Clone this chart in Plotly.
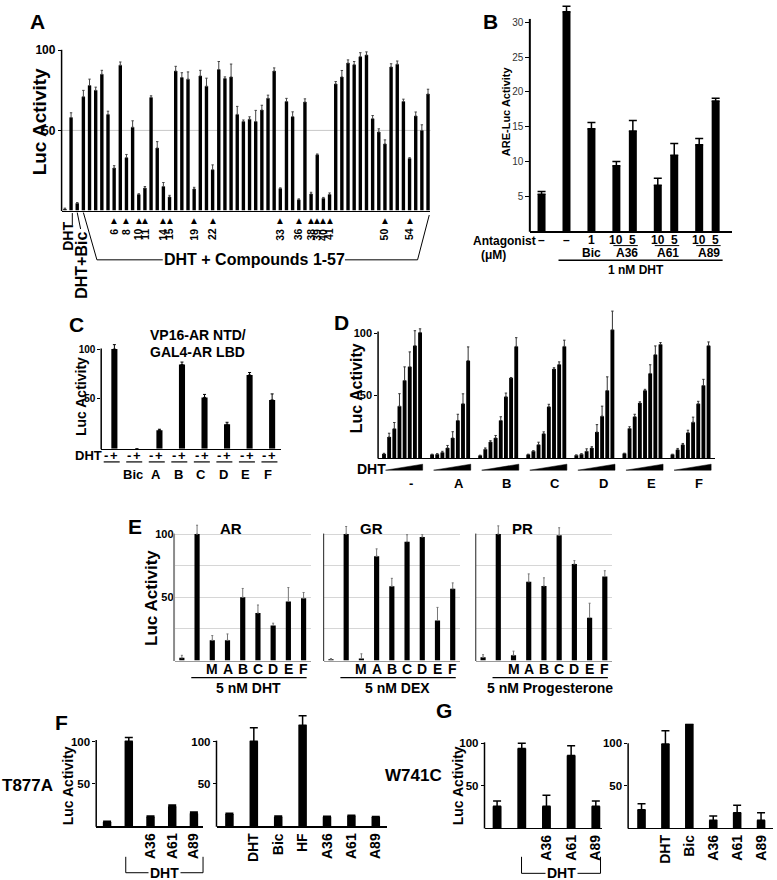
import plotly.graph_objects as go

W, H = 777, 880
FONT = "Arial, 'Liberation Sans', Helvetica, sans-serif"

# ======================= DATA =======================
# Panel A
a_labels = ["", "DHT", "DHT+Bic"] + [str(i) for i in range(1, 58)]
a_values = [1, 58, 4.5,
            71, 78, 75, 85, 60, 26.5, 90.7, 33, 52, 10,
            14, 70.6, 39, 15, 8.5, 87, 83, 82, 13.5, 84,
            77.6, 25.5, 88, 82.4, 83.4, 60, 55.5, 57, 55.5, 62.7,
            70, 87, 13.7, 68, 58.6, 6.8, 67.7, 10.4, 34.8, 7.7,
            10, 79, 83.4, 92, 91, 96, 97, 57.3, 49, 41.6,
            89.6, 91.3, 68, 32.5, 59, 50, 72.7]
a_errors = [0.5, 3, 0.5,
            4, 4, 2, 2.5, 2, 1.5, 2, 2, 4, 0.5,
            1, 1, 4, 2.5, 1, 3, 3, 4.5, 1, 3.5,
            5, 3, 5, 1, 8, 5, 1, 1.5, 7, 3,
            2, 2, 0.5, 2, 3, 0.5, 2, 1, 0.5, 0.5,
            1, 1.5, 4, 2, 2, 2.5, 2, 2, 2, 2.5,
            2, 2, 1.5, 0.5, 2.5, 3.5, 3]
a_marked = [6, 8, 10, 11, 14, 15, 19, 22, 33, 36, 38, 39, 40, 41, 50, 54]
a_yticks = [50, 100]

# Panel B
b_doses = ["–", "–", "1", "10", "5", "10", "5", "10", "5"]
b_antagonists = ["", "", "Bic", "A36", "A36", "A61", "A61", "A89", "A89"]
b_values = [5.3, 31.5, 14.7, 9.4, 14.4, 6.6, 10.9, 12.4, 18.7]
b_errors = [0.4, 0.8, 0.9, 0.6, 1.5, 1.0, 1.7, 0.9, 0.4]
b_yticks = [5, 10, 15, 20, 25, 30]

# Panel C
c_groups = ["", "Bic", "A", "B", "C", "D", "E", "F"]
c_minus = [0, 0, 0, 0, 0, 0, 0, 0]
c_plus = [100, 0, 18.5, 84.5, 51.5, 24.5, 74, 49]
c_plus_err = [4.5, 0, 1, 2.5, 3, 2, 2.5, 6]

# Panel D
d_groups = ["-", "A", "B", "C", "D", "E", "F"]
d_values = [
    [3.2, 16.8, 23.4, 41.5, 62, 73, 90, 100.5],
    [2.7, 2.9, 4.3, 8, 16, 30, 43.4, 78],
    [1.9, 7, 12.8, 16, 30, 49, 64, 89.4],
    [2.7, 5.3, 10.6, 19.4, 41, 71.3, 75, 89.4],
    [2.1, 2.9, 5.3, 8, 20.7, 33.5, 54, 102.7],
    [3.5, 23.5, 33, 44, 54, 67.7, 82.8, 91],
    [2.7, 6.6, 10.6, 20.2, 28.7, 43.4, 58, 90],
]
d_errors = [
    [0.5, 3, 5, 10, 11, 12, 12, 3],
    [0.3, 0.5, 1, 2, 5, 5, 8, 11],
    [0.3, 1, 1, 2, 3, 3, 0.5, 7],
    [0.3, 0.5, 2, 1.5, 2, 1, 2, 5],
    [0.3, 0.5, 2, 1, 6, 8, 11, 15],
    [0.3, 1.5, 2, 1, 1, 7, 7, 1.5],
    [0.3, 1, 1, 2, 4, 2, 5, 3],
]

# Panel E
e_labels = ["", "", "M", "A", "B", "C", "D", "E", "F"]
e_receptors = ["AR", "GR", "PR"]
e_stimuli = ["5 nM DHT", "5 nM DEX", "5 nM Progesterone"]
e_ar = [2.1, 100, 16, 16, 50, 37.6, 27.7, 46.7, 49.3]
e_ar_err = [2, 7, 3.7, 5, 7, 6.3, 1.8, 11, 4.5]
e_gr = [1, 100, 1.6, 82.5, 58.7, 94, 97.7, 31.6, 56.7]
e_gr_err = [0.5, 6, 3.7, 5.8, 6.3, 5.5, 1.8, 10.4, 4.7]
e_pr = [2.6, 100, 4.2, 62.2, 59, 99, 76.3, 33.9, 66.4]
e_pr_err = [2, 6.5, 3.2, 6.3, 6.4, 6, 2.7, 11.4, 4.6]
e_yticks = [25, 50, 75, 100]
e_yticktext = ["", "50", "", "100"]

# Panel F (T877A)
f1_labels = ["", "", "A36", "A61", "A89"]
f1_values = [5, 100.4, 11.3, 23.3, 15.2]
f1_errors = [0.8, 4.5, 0.8, 1.8, 1.5]
f2_labels = ["", "DHT", "Bic", "HF", "A36", "A61", "A89"]
f2_values = [14.4, 100.4, 11.3, 119.5, 11.3, 12.5, 11]
f2_errors = [1, 16, 0.8, 11, 0.5, 0.5, 0.5]

# Panel G (W741C)
g1_labels = ["", "", "A36", "A61", "A89"]
g1_values = [25.5, 94, 25.5, 85.5, 25.5]
g1_errors = [6.3, 6, 13, 11.5, 6.3]
g2_labels = ["", "DHT", "Bic", "A36", "A61", "A89"]
g2_values = [21.6, 99.2, 123, 9, 18, 9]
g2_errors = [7, 15.7, 0, 5, 8.7, 9]

fg_yticks = [50, 100]

# ======================= HELPERS =======================
fig = go.Figure()
axes = {}
anns = []
shps = []


class Panel:
    def __init__(self, n, x0, x1, xr, base, scale, top, axtop):
        self.x0, self.x1, self.xr = x0, x1, xr
        self.base, self.scale, self.top, self.axtop = base, scale, top, axtop
        self.ymax = (base - top) / scale
        sfx = "" if n == 1 else str(n)
        self.xa, self.ya = "x" + sfx, "y" + sfx
        self.xk, self.yk = "xaxis" + sfx, "yaxis" + sfx

    def px(self, xv):
        f = (xv - self.xr[0]) / (self.xr[1] - self.xr[0])
        return self.x0 + f * (self.x1 - self.x0)


def bold(size, color="black", weight="bold"):
    return dict(family=FONT, size=size, color=color, weight=weight)


def poly(points, width=1, color="black", fill=None):
    path = "M " + " L ".join(f"{x / W:.5f},{1 - y / H:.5f}" for x, y in points)
    d = dict(type="path", xref="paper", yref="paper", path=path + (" Z" if fill else ""),
             line=dict(color=color, width=width))
    if fill:
        d["fillcolor"] = fill
    shps.append(d)


def setup(p, xkw=None, ykw=None, ycolor="black", ywidth=1.5):
    x = dict(domain=[p.x0 / W, p.x1 / W], range=p.xr, anchor=p.ya,
             showgrid=False, zeroline=False, showline=True, linecolor="black",
             linewidth=1.5, ticks="", showticklabels=False, fixedrange=True)
    y = dict(domain=[1 - p.base / H, 1 - p.top / H], range=[0, p.ymax], anchor=p.xa,
             showgrid=False, zeroline=False, showline=False,
             ticks="outside", ticklen=3, tickwidth=1, tickcolor="black",
             tickfont=bold(11), fixedrange=True)
    if xkw:
        x.update(xkw)
    if ykw:
        y.update(ykw)
    axes[p.xk] = x
    axes[p.yk] = y
    # y axis line that stops at the top tick, as in the original figure
    poly([(p.x0 - ywidth / 2 + 0.5, p.base + 0.5), (p.x0 - ywidth / 2 + 0.5, p.axtop)],
         width=ywidth, color=ycolor)


def bars(p, xs, ys, errs, width, ecolor="black", ethick=1, ewidth=1.5):
    kw = {}
    if errs is not None:
        kw["error_y"] = dict(type="data", array=errs, arrayminus=[0] * len(errs),
                             symmetric=False, visible=True, color=ecolor,
                             thickness=ethick, width=ewidth)
    fig.add_trace(go.Bar(x=xs, y=ys, xaxis=p.xa, yaxis=p.ya, width=width,
                         marker=dict(color="black", line=dict(width=0)),
                         showlegend=False, hoverinfo="skip", **kw))


def ann(x, y, text, size, weight="bold", angle=0, xanchor="center", yanchor="middle",
        color="black", bg=None):
    d = dict(x=x / W, y=1 - y / H, xref="paper", yref="paper", text=text,
             showarrow=False, font=bold(size, color, weight), textangle=angle,
             xanchor=xanchor, yanchor=yanchor, borderpad=1)
    if bg:
        d["bgcolor"] = bg
    anns.append(d)


# ======================= PANEL A =======================
pA = Panel(1, 62, 431.6, [-0.5, 59.4], 207.5, 1.61, 44, 46)
setup(pA, ykw=dict(tickvals=a_yticks, tickfont=bold(12)))
bars(pA, list(range(len(a_values))), a_values, a_errors, 0.55, ecolor="#444", ethick=1, ewidth=1.2)
shps.append(dict(type="line", xref=pA.xa + " domain", x0=0, x1=1, yref=pA.ya, y0=50, y1=50,
                 line=dict(color="#c8c8c8", width=1), layer="below"))
for c in a_marked:
    i = a_labels.index(str(c))
    x = pA.px(i)
    ann(x, 217.5, "▲", 10, weight="normal")
    ann(x, 223.5, str(c), 10.5, angle=-90, yanchor="top")
ann(pA.px(0.55), 233.5, "DHT", 14, angle=-90)
poly([(pA.px(1.2), 210), (pA.px(1.2), 222.5)])
ann(pA.px(2.75), 226.5, "DHT+Bic", 16, angle=-90, yanchor="top")
poly([(pA.px(2.0), 209.5), (pA.px(2.55), 226)])
poly([(pA.px(3.0), 209.5), (pA.px(5.2), 257), (pA.px(15.9), 257)])
poly([(pA.px(45.5), 257), (pA.px(57.3), 257), (pA.px(59.2), 212)])
ann(pA.px(30.8), 257, "DHT + Compounds 1-57", 16)
ann(40, 118, "Luc Activity", 19, angle=-90)
ann(38, 18, "A", 21)

# ======================= PANEL B =======================
b_x = []
pos = 0.0
for i, ant in enumerate(b_antagonists):
    if i > 0:
        pos += 0.66 if (ant != "" and ant == b_antagonists[i - 1]) else 1.0
    b_x.append(pos)

pB = Panel(2, 531.7, 734, [-0.45, 7.64], 228.3, 7.0, 1, 15)
setup(pB, xkw=dict(linewidth=2),
      ykw=dict(tickvals=b_yticks, ticklen=4, tickfont=bold(10, "#333", "normal")),
      ywidth=2)
bars(pB, b_x, b_values, b_errors, 0.32, ethick=1.5, ewidth=4)
ann(506, 238.3, "Antagonist", 12)
ann(495, 252, "(μM)", 12)
for i, d in enumerate(b_doses):
    ann(pB.px(b_x[i]), 237, d, 12)
i = 0
while i < len(b_antagonists):
    ant = b_antagonists[i]
    j = i
    while j + 1 < len(b_antagonists) and ant != "" and b_antagonists[j + 1] == ant:
        j += 1
    if ant:
        xc = (pB.px(b_x[i]) + pB.px(b_x[j])) / 2
        if j > i:
            poly([(pB.px(b_x[i]) - 3, 242.7), (pB.px(b_x[j]) + 5, 242.7)])
            xc += 2
        ann(xc, 250.5, ant, 12)
    i = j + 1
poly([(pB.px(b_x[1]) - 8, 257.3), (pB.px(b_x[-1]) + 7, 257.3)], width=1.5)
ann(638, 267, "1 nM DHT", 12)
ann(507, 108, "ARE-Luc Activity", 11, angle=-90)
ann(492, 18, "B", 21)

# ======================= PANEL C =======================
pC = Panel(3, 101.7, 282, [-0.22, 7.76], 446.7, 1.0, 340, 346)
setup(pC, ykw=dict(tickvals=[50, 100], tickfont=bold(10)))
c_x = list(range(len(c_groups)))
bars(pC, c_x, c_minus, None, 0.27)
bars(pC, [g + 0.354 for g in c_x], c_plus, c_plus_err, 0.27, ethick=1, ewidth=1.5)
ann(104, 454, "DHT", 13, xanchor="right")
for g, lab in enumerate(c_groups):
    ann(pC.px(g), 453.5, "-", 13)
    ann(pC.px(g + 0.354), 453.5, "+", 13)
    poly([(pC.px(g - 0.12), 460), (pC.px(g + 0.59), 460)], width=1.2)
    if lab:
        ann(pC.px(g + 0.18), 473, lab, 13)
ann(148, 333, "VP16-AR NTD/", 14, xanchor="left")
ann(148, 350, "GAL4-AR LBD", 14, xanchor="left")
ann(81, 394, "Luc Activity", 14, angle=-90)
ann(77, 322, "C", 21)

# ======================= PANEL D =======================
pD = Panel(4, 379.3, 716.7, [-1.1, 64.2], 456, 1.253, 305, 329)
setup(pD, ykw=dict(tickvals=[50, 100], tickfont=bold(11)))
dx, dy, de = [], [], []
for g in range(len(d_groups)):
    for i in range(len(d_values[g])):
        dx.append(g * 9.33 + i)
        dy.append(d_values[g][i])
        de.append(d_errors[g][i])
bars(pD, dx, dy, de, 0.75, ecolor="#333", ethick=1, ewidth=1.2)
for g, lab in enumerate(d_groups):
    x0 = pD.px(g * 9.33 + 0.3)
    x1 = pD.px(g * 9.33 + 7.5)
    poly([(x0, 468.3), (x1, 468.3), (x1, 462.3)], width=0.5, fill="black")
    ann(pD.px(g * 9.33 + 5.2), 482, lab, 13)
ann(372, 467, "DHT", 14)
ann(357, 386, "Luc Activity", 16, angle=-90)
ann(342, 320, "D", 21)

# ======================= PANEL E =======================
e_vals = [e_ar, e_gr, e_pr]
e_errs = [e_ar_err, e_gr_err, e_pr_err]
e_dom = [(175, 312), (324.5, 461.5), (477, 614)]
e_title_x = [232, 372, 524]
for k in range(3):
    p = Panel(5 + k, e_dom[k][0], e_dom[k][1], [-0.48, 8.5], 659.5, 1.27, 521, 532)
    ykw = dict(tickvals=e_yticks, showgrid=True, gridcolor="#d6d6d6", gridwidth=1, ticks="")
    if k == 0:
        ykw.update(ticktext=e_yticktext, tickfont=bold(11))
        yc, yw = "#8c8c8c", 2
    else:
        ykw.update(showticklabels=False)
        yc, yw = "#222", 1
    setup(p, xkw=dict(linecolor="#9a9a9a", linewidth=1), ykw=ykw, ycolor=yc, ywidth=yw)
    bars(p, list(range(len(e_vals[k]))), e_vals[k], e_errs[k], 0.34,
         ecolor="#777", ethick=1, ewidth=1)
    for i, lab in enumerate(e_labels):
        if lab:
            ann(p.px(i), 668, lab, 14)
    poly([(p.px(0.62), 676.7), (p.px(8.2), 676.7)], width=1.2)
    ann(p.px(4.4), 687.5, e_stimuli[k], 14)
    ann(e_title_x[k], 527, e_receptors[k], 15)
ann(152, 597, "Luc Activity", 17, angle=-90)
ann(135, 525, "E", 21)


# ======================= PANELS F & G =======================
def small_panel(p, labels, values, errors, width):
    tv = [i for i, l in enumerate(labels) if l]
    tt = [l for l in labels if l]
    setup(p, xkw=dict(showticklabels=True, tickvals=tv, ticktext=tt, tickangle=-90,
                      tickfont=bold(14)),
          ykw=dict(tickvals=fg_yticks, tickfont=bold(11.5)))
    bars(p, list(range(len(values))), values, errors, width, ethick=1.5, ewidth=4)


pF1 = Panel(8, 96.7, 204, [-0.49, 4.44], 826, 0.85, 734, 739.3)
pF2 = Panel(9, 217.3, 388, [-0.52, 6.46], 826, 0.85, 712, 740)
small_panel(pF1, f1_labels, f1_values, f1_errors, 0.39)
small_panel(pF2, f2_labels, f2_values, f2_errors, 0.35)
poly([(pF1.px(0.86), 856.7), (pF1.px(0.86), 872.7), (pF1.px(4.42), 872.7), (pF1.px(4.42), 856.7)])
ann((pF1.px(0.86) + pF1.px(4.42)) / 2, 872.7, "DHT", 14, bg="white")
ann(28, 785, "T877A", 17)
ann(69, 785, "Luc Activity", 14, angle=-90)
ann(62, 722, "F", 21)

pG1 = Panel(10, 486, 603.3, [-0.5, 4.24], 827.7, 0.85, 737, 741.7)
pG2 = Panel(11, 630, 775, [-0.55, 5.5], 827.7, 0.85, 723, 742.7)
small_panel(pG1, g1_labels, g1_values, g1_errors, 0.36)
small_panel(pG2, g2_labels, g2_values, g2_errors, 0.36)
poly([(pG1.px(0.99), 856.7), (pG1.px(0.99), 873.3), (pG1.px(4.19), 873.3), (pG1.px(4.19), 856.7)])
ann((pG1.px(0.99) + pG1.px(4.19)) / 2, 873.3, "DHT", 14, bg="white")
ann(414.5, 775, "W741C", 17)
ann(460, 785, "Luc Activity", 14, angle=-90)
ann(445, 710, "G", 21)

# ======================= LAYOUT =======================
fig.update_layout(
    width=W, height=H, autosize=False,
    margin=dict(l=0, r=0, t=0, b=0),
    paper_bgcolor="white", plot_bgcolor="white",
    showlegend=False, barmode="overlay",
    font=dict(family=FONT, color="black"),
    annotations=anns, shapes=shps,
    **axes,
)
fig.write_html("out.html",
               config={"displayModeBar": False, "staticPlot": True},
               post_script="document.body.style.margin='0';document.body.style.padding='0';"
                           "document.documentElement.style.overflow='hidden';")
